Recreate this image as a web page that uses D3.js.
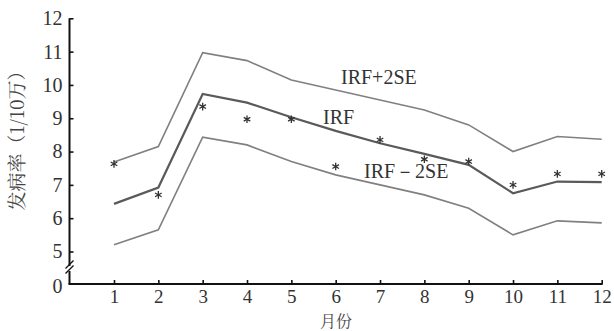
<!DOCTYPE html>
<html>
<head>
<meta charset="utf-8">
<script src="https://cdn.jsdelivr.net/npm/d3@7"></script>
<style>
  html, body { margin: 0; padding: 0; background: #fff; }
</style>
</head>
<body>
<div id="chart"></div>
<script>
// months on x axis
const months = [1, 2, 3, 4, 5, 6, 7, 8, 9, 10, 11, 12];
// IRF curve and its +/- 2SE band (per 100,000)
const irf = [6.43, 6.92, 9.73, 9.47, 9.03, 8.62, 8.25, 7.93, 7.6, 6.75, 7.1, 7.08];
const upper = [7.69, 8.15, 10.97, 10.73, 10.15, 9.85, 9.55, 9.25, 8.8, 8.0, 8.45, 8.37];
const lower = [5.2, 5.65, 8.43, 8.2, 7.7, 7.3, 7.0, 6.7, 6.3, 5.5, 5.92, 5.86];
// observed incidence (asterisks)
const observed = [7.63, 6.7, 9.35, 8.97, 8.97, 7.55, 8.35, 7.77, 7.7, 7.0, 7.33, 7.33];
const yTicks = [5, 6, 7, 8, 9, 10, 11, 12];

const serifFont = '"Liberation Serif", monospace';
const cjkFont = '"Noto Serif CJK SC", monospace';

const W = 614, H = 331;
const svg = d3.select("#chart").append("svg")
  .attr("width", W).attr("height", H);

const axisX = 69.5, axisY = 284;

const x = d3.scaleLinear().domain([1, 12]).range([114, 601.7]);
const y = d3.scaleLinear().domain([5, 12]).range([251.5, 18.3]);
// short broken segment below 5 that only shows 0
const yBreak = d3.scaleLinear().domain([0, 5]).range([axisY, 251.5]);

// axis lines (with break on y)
svg.append("line")
  .attr("x1", axisX).attr("x2", axisX)
  .attr("y1", y(12)).attr("y2", 266)
  .attr("stroke", "#111").attr("stroke-width", 2);
svg.append("line")
  .attr("x1", axisX).attr("x2", axisX)
  .attr("y1", 271).attr("y2", axisY)
  .attr("stroke", "#111").attr("stroke-width", 2);
svg.append("line")
  .attr("x1", axisX - 1).attr("x2", x(12) + 1)
  .attr("y1", axisY).attr("y2", axisY)
  .attr("stroke", "#111").attr("stroke-width", 2);

// break marks
[264.5, 269.5].forEach(b => {
  svg.append("line")
    .attr("x1", axisX - 4).attr("y1", b + 4)
    .attr("x2", axisX + 4).attr("y2", b - 4)
    .attr("stroke", "#111").attr("stroke-width", 1.3);
});

function styleAxis(g, size) {
  g.attr("font-family", null);
  g.select(".domain").remove();
  g.selectAll(".tick line").attr("stroke", "#111").attr("stroke-width", 1.6);
  g.selectAll(".tick text")
    .attr("fill", "#333")
    .style("font-family", serifFont)
    .style("font-size", (size || 20) + "px");
}

svg.append("g")
  .attr("transform", `translate(${axisX},0)`)
  .call(d3.axisLeft(y).tickValues(yTicks).tickFormat(d3.format("d"))
    .tickSize(-4).tickPadding(7))
  .call(styleAxis);

svg.append("g")
  .attr("transform", `translate(${axisX},0)`)
  .call(d3.axisLeft(yBreak).tickValues([0]).tickFormat(d3.format("d"))
    .tickSize(0).tickPadding(7))
  .call(styleAxis)
  .selectAll(".tick text").attr("dy", "0.4em");

svg.append("g")
  .attr("transform", `translate(0,${axisY})`)
  .call(d3.axisBottom(x).tickValues(months).tickFormat(d3.format("d"))
    .tickSize(-4).tickPadding(6))
  .call(styleAxis, 19);

// lines
const line = d3.line()
  .x((d, i) => x(months[i]))
  .y(d => y(d));

svg.append("path").datum(upper)
  .attr("d", line).attr("fill", "none")
  .attr("stroke", "#808080").attr("stroke-width", 1.6);
svg.append("path").datum(lower)
  .attr("d", line).attr("fill", "none")
  .attr("stroke", "#808080").attr("stroke-width", 1.6);
svg.append("path").datum(irf)
  .attr("d", line).attr("fill", "none")
  .attr("stroke", "#5a5a5a").attr("stroke-width", 2.2);

// observed asterisks
const star = d3.symbol().type(d3.symbolAsterisk).size(40);
svg.selectAll("path.obs")
  .data(observed)
  .enter().append("path")
  .attr("class", "obs")
  .attr("d", star)
  .attr("transform", (d, i) => `translate(${x(months[i])},${y(d)})`)
  .attr("fill", "none")
  .attr("stroke", "#333")
  .attr("stroke-width", 1.3);

// curve labels
const labels = svg.append("g")
  .style("font-family", serifFont)
  .style("font-size", "20px")
  .attr("fill", "#333");
labels.append("text").attr("x", 341).attr("y", 84).text("IRF+2SE");
labels.append("text").attr("x", 323).attr("y", 124).text("IRF");
labels.append("text").attr("x", 364).attr("y", 178).text("IRF－2SE");

// axis titles
svg.append("text")
  .attr("transform", "translate(24,136) rotate(-90)")
  .attr("text-anchor", "middle")
  .style("font-family", cjkFont)
  .style("font-size", "19px")
  .attr("fill", "#444")
  .text("发病率（1/10万）");

svg.append("text")
  .attr("x", 336).attr("y", 326.5)
  .attr("text-anchor", "middle")
  .style("font-family", cjkFont)
  .style("font-size", "16px")
  .attr("fill", "#444")
  .text("月份");
</script>
</body>
</html>
